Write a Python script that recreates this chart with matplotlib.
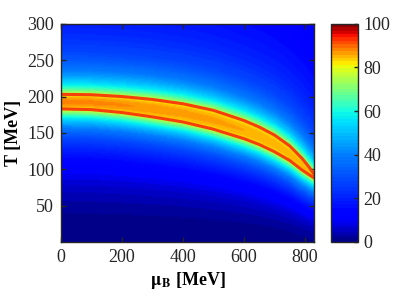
import numpy as np
import matplotlib.pyplot as plt
from matplotlib.colors import ListedColormap

# band edges (MeV)
mu_nodes = [0, 100, 200, 300, 400, 500, 600, 650, 700, 750, 790, 815, 830]
T_upper = [203, 202.5, 200, 196, 190, 181, 167, 158, 147, 132, 115, 102, 93]
T_lower = [183, 182, 178, 172, 165, 155, 142, 134, 124, 112, 99, 92, 88]

x_ticks = [0, 200, 400, 600, 800]
y_ticks = [50, 100, 150, 200, 250, 300]
cb_ticks = [0, 20, 40, 60, 80, 100]

# where the colorbar values sit on the jet scale
cb_vals = [0, 10, 40, 60, 80, 90, 100]
jet_pos = [0, 0.11, 0.25, 0.375, 0.625, 0.8, 1.0]

plt.rcParams['font.family'] = ['Liberation Serif', 'DejaVu Serif']
plt.rcParams['mathtext.fontset'] = 'stix'

jet = plt.get_cmap('jet')
lv = (np.arange(64) + 0.5) / 64 * 100
cmap = ListedColormap(jet(np.interp(lv, cb_vals, jet_pos)))

# build the map around the band
mu = np.linspace(0, 830, 167)
T = np.linspace(0, 300, 201)
M, TT = np.meshgrid(mu, T)
up = np.interp(M, mu_nodes, T_upper)
lo = np.interp(M, mu_nodes, T_lower)
c = (up + lo) / 2
h = (up - lo) / 2
r = np.abs(TT - c)
d = r - h
inside = 81.5 + 7 * (1 - (r / h) ** 2) * (1 - 0.5 * M / 830)
above = 50 * np.exp(-d / 27) + 30 * np.exp(-d / 200)
below = 50 * np.exp(-d / 25) + 30 * (np.clip(TT, 0, None) / lo) ** 2
Z = np.where(d < 0, inside, np.where(TT > c, above, below))
Z = np.clip(Z, 0, 100)

fig = plt.figure(figsize=(4.15, 3.02), dpi=100)
ax = fig.add_axes([0.147, 0.199, 0.610, 0.722])
cax = fig.add_axes([0.798, 0.199, 0.065, 0.722])

im = ax.pcolormesh(mu, T, Z, cmap=cmap, vmin=0, vmax=100, shading='gouraud')
ax.plot(mu_nodes, T_upper, color='#f5400a', lw=2.2)
ax.plot(mu_nodes, T_lower, color='#f5400a', lw=2.2)

ax.set_xlim(0, 830)
ax.set_ylim(0, 300)
ax.set_xticks(x_ticks)
ax.set_yticks(y_ticks)
ax.tick_params(direction='in', length=3.5, width=1, top=True, right=True,
               labelsize=13, colors='#262626', pad=5)
for s in ax.spines.values():
    s.set_color('#262626')
    s.set_linewidth(1)
ax.set_xlabel(r'$\mathbf{\mu_B}$ [MeV]', fontsize=13, fontweight='bold', labelpad=3)
ax.set_ylabel('T [MeV]', fontsize=13, fontweight='bold', labelpad=4)

cb = fig.colorbar(im, cax=cax, ticks=cb_ticks)
cb.ax.tick_params(direction='in', length=3, width=1, labelsize=13, colors='#262626', pad=4)
cb.outline.set_edgecolor('#262626')
cb.outline.set_linewidth(1)

fig.savefig('out.png', dpi=100)
